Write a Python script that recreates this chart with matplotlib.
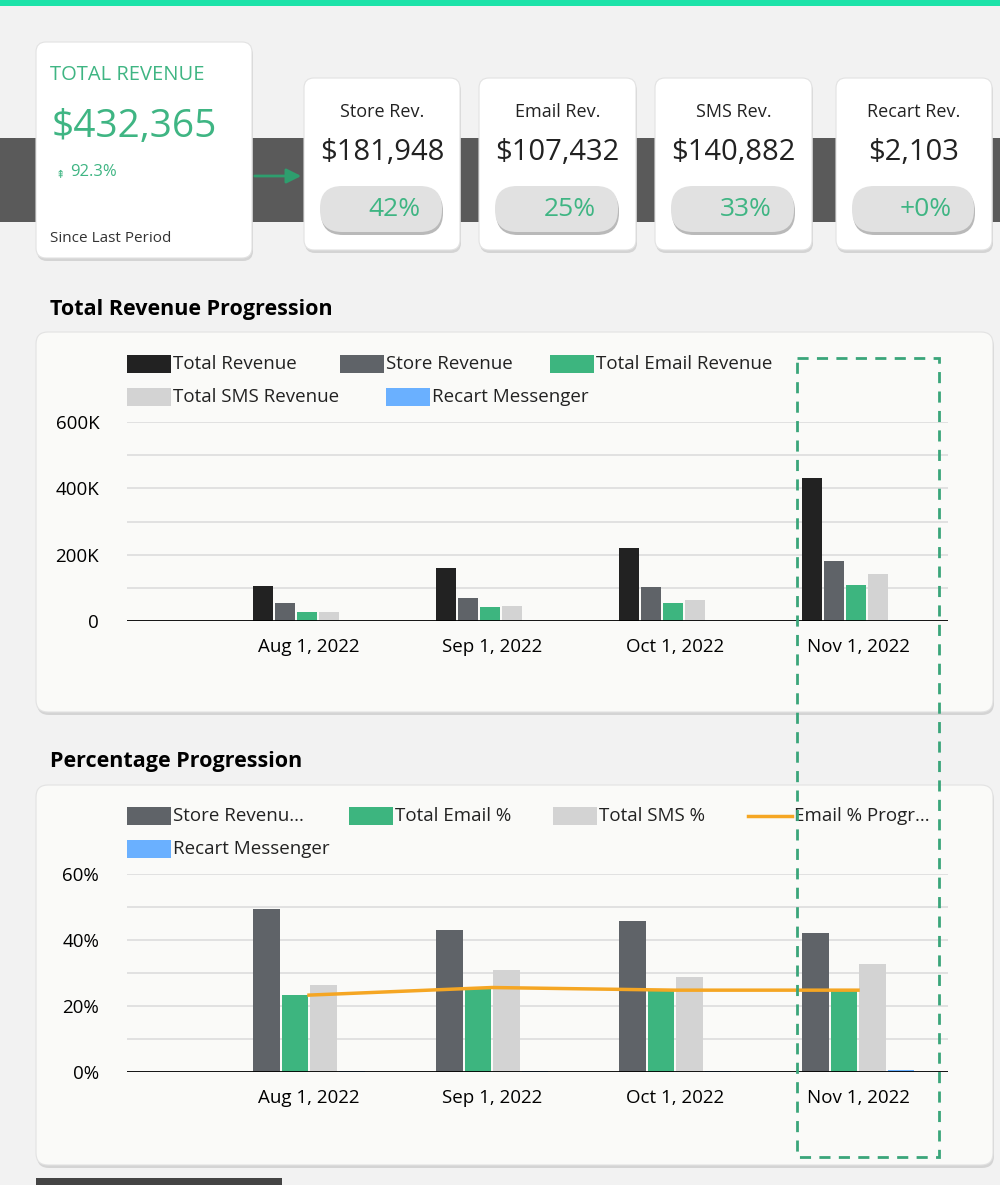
import numpy as np
import matplotlib.pyplot as plt
from matplotlib.patches import FancyBboxPatch, Rectangle

plt.rcParams['font.family'] = ['Open Sans', 'DejaVu Sans']

months = ['Aug 1, 2022', 'Sep 1, 2022', 'Oct 1, 2022', 'Nov 1, 2022']
total_rev = [106000, 161000, 220000, 432365]
store_rev = [54000, 68000, 102000, 181948]
email_rev = [27000, 42000, 55000, 107432]
sms_rev = [27000, 46000, 64000, 140882]
recart_rev = [300, 600, 900, 2103]

store_pct = [49.5, 43.1, 45.9, 42.0]
email_pct = [23.3, 25.4, 24.6, 24.8]
sms_pct = [26.5, 31.0, 28.9, 32.6]
recart_pct = [0.2, 0.2, 0.3, 0.5]
email_prog = [23.3, 25.6, 24.8, 24.8]

cards = ['Store Rev.', 'Email Rev.', 'SMS Rev.', 'Recart Rev.']
card_vals = ['$181,948', '$107,432', '$140,882', '$2,103']
card_pcts = ['42%', '25%', '33%', '+0%']

C_TOTAL, C_STORE, C_EMAIL, C_SMS, C_RECART = '#222222', '#5f6368', '#3db57f', '#d3d3d3', '#6ab0ff'
C_LINE = '#f5a623'
GREEN = '#3fb583'

W, H = 1000, 1185
fig = plt.figure(figsize=(10, 11.85), dpi=100, facecolor='#f2f2f2')
bg = fig.add_axes([0, 0, 1, 1], zorder=0)
bg.set_xlim(0, W); bg.set_ylim(H, 0); bg.axis('off')

def box(x0, y0, x1, y1, r=10, fc='white', ax=bg):
    ax.add_patch(FancyBboxPatch((x0 + 1, y0 + 3), x1 - x0, y1 - y0,
                                boxstyle=f'round,pad=0,rounding_size={r}',
                                fc='#c8c8c8', ec='none', alpha=0.7))
    ax.add_patch(FancyBboxPatch((x0, y0), x1 - x0, y1 - y0,
                                boxstyle=f'round,pad=0,rounding_size={r}',
                                fc=fc, ec='#e2e2e2', lw=0.8))

# header
bg.add_patch(Rectangle((0, 0), W, 6, fc='#1de3a9', ec='none'))
bg.add_patch(Rectangle((0, 138), W, 84, fc='#5a5a5a', ec='none'))
bg.annotate('', xy=(304, 176), xytext=(252, 176),
            arrowprops=dict(arrowstyle='-|>', color='#2e9e6e', lw=2, mutation_scale=22))

box(36, 42, 252, 258)
bg.text(50, 75, 'TOTAL REVENUE', color=GREEN, fontsize=14.5, va='center')
bg.text(52, 127, '$432,365', color=GREEN, fontsize=28, va='center')
bg.text(56, 175, '⇞', color=GREEN, fontsize=8, va='center')
bg.text(70, 172, '92.3%', color=GREEN, fontsize=12, va='center')
bg.text(50, 239, 'Since Last Period', color='#333333', fontsize=11, va='center')

card_x = [(304, 460), (479, 636), (655, 812), (836, 992)]
for (x0, x1), name, val, pct in zip(card_x, cards, card_vals, card_pcts):
    box(x0, 78, x1, 250)
    cx = (x0 + x1) / 2
    bg.text(cx, 112, name, fontsize=13, ha='center', va='center', color='#222222')
    bg.text(cx, 153, val, fontsize=21, ha='center', va='center', color='#222222')
    bg.add_patch(FancyBboxPatch((x0 + 17, 189), x1 - x0 - 34, 46,
                                boxstyle='round,pad=0,rounding_size=22',
                                fc='#b9b9b9', ec='none'))
    bg.add_patch(FancyBboxPatch((x0 + 16, 186), x1 - x0 - 34, 46,
                                boxstyle='round,pad=0,rounding_size=22',
                                fc='#e1e1e1', ec='none'))
    bg.text(cx + 12, 210, pct, fontsize=19, ha='center', va='center', color=GREEN)

# chart cards
bg.text(50, 309, 'Total Revenue Progression', fontsize=15.5, fontweight='bold', va='center')
box(36, 332, 993, 712, r=12, fc='#fafaf8')
bg.text(50, 762, 'Percentage Progression', fontsize=15.5, fontweight='bold', va='center')
box(36, 785, 993, 1165, r=12, fc='#fafaf8')
bg.add_patch(Rectangle((36, 1178), 246, 10, fc='#444444', ec='none'))

def legend_item(x, y, label, color, line=False):
    if line:
        bg.plot([x, x + 44], [y, y], color=color, lw=2.5)
    else:
        bg.add_patch(Rectangle((x, y - 9), 44, 18, fc=color, ec='none'))
    bg.text(x + 46, y, label, fontsize=13.5, va='center', color='#222222')

legend_item(127, 364, 'Total Revenue', C_TOTAL)
legend_item(340, 364, 'Store Revenue', C_STORE)
legend_item(550, 364, 'Total Email Revenue', C_EMAIL)
legend_item(127, 397, 'Total SMS Revenue', C_SMS)
legend_item(386, 397, 'Recart Messenger', C_RECART)

legend_item(127, 816, 'Store Revenu...', C_STORE)
legend_item(349, 816, 'Total Email %', C_EMAIL)
legend_item(553, 816, 'Total SMS %', C_SMS)
legend_item(748, 816, 'Email % Progr...', C_LINE, line=True)
legend_item(127, 849, 'Recart Messenger', C_RECART)

def px_axes(x0, y0, x1, y1):
    return fig.add_axes([x0 / W, 1 - y1 / H, (x1 - x0) / W, (y1 - y0) / H], zorder=1)

x = np.arange(len(months))
xl = ((127 - 309) / 183, (948 - 309) / 183)

def style(ax, ticks, labels):
    ax.set_facecolor('none')
    ax.set_xlim(*xl)
    ax.set_yticks(ticks)
    ax.set_yticklabels(labels, fontsize=13.5)
    ax.set_xticks(x)
    ax.set_xticklabels(months, fontsize=13.5)
    ax.tick_params(length=0)
    ax.tick_params(axis='x', pad=12)
    ax.tick_params(axis='y', pad=20)
    for s in ax.spines.values():
        s.set_visible(False)
    ax.axhline(0, color='black', lw=2, zorder=5)
    ax.grid(axis='y', color='#dddddd', lw=1.2, zorder=0)

ax1 = px_axes(127, 422, 948, 621)
bw1 = 0.12
offs1 = [-0.251, -0.131, -0.011, 0.109, 0.229]
for off, vals, c in zip(offs1, [total_rev, store_rev, email_rev, sms_rev, recart_rev],
                        [C_TOTAL, C_STORE, C_EMAIL, C_SMS, C_RECART]):
    ax1.bar(x + off, vals, bw1 * 0.95, color=c, zorder=3)
ax1.set_ylim(0, 600000)
style(ax1, np.arange(0, 600001, 100000), ['0', '', '200K', '', '400K', '', '600K'])

ax2 = px_axes(127, 874, 948, 1072)
bw2 = 0.153
offs2 = [-0.233, -0.077, 0.08, 0.235]
for off, vals, c in zip(offs2, [store_pct, email_pct, sms_pct, recart_pct],
                        [C_STORE, C_EMAIL, C_SMS, C_RECART]):
    ax2.bar(x + off, vals, bw2 * 0.95, color=c, zorder=3)
ax2.plot(x, email_prog, color=C_LINE, lw=2.5, zorder=4)
ax2.set_ylim(0, 60)
style(ax2, np.arange(0, 61, 10), ['0%', '', '20%', '', '40%', '', '60%'])

top = fig.add_axes([0, 0, 1, 1], zorder=3)
top.set_xlim(0, W); top.set_ylim(H, 0); top.axis('off')
top.add_patch(Rectangle((797, 358), 142, 799, fc='none', ec='#3aa57a',
                        lw=2, ls=(0, (4, 3))))

fig.savefig('out.png', dpi=100, facecolor=fig.get_facecolor())
